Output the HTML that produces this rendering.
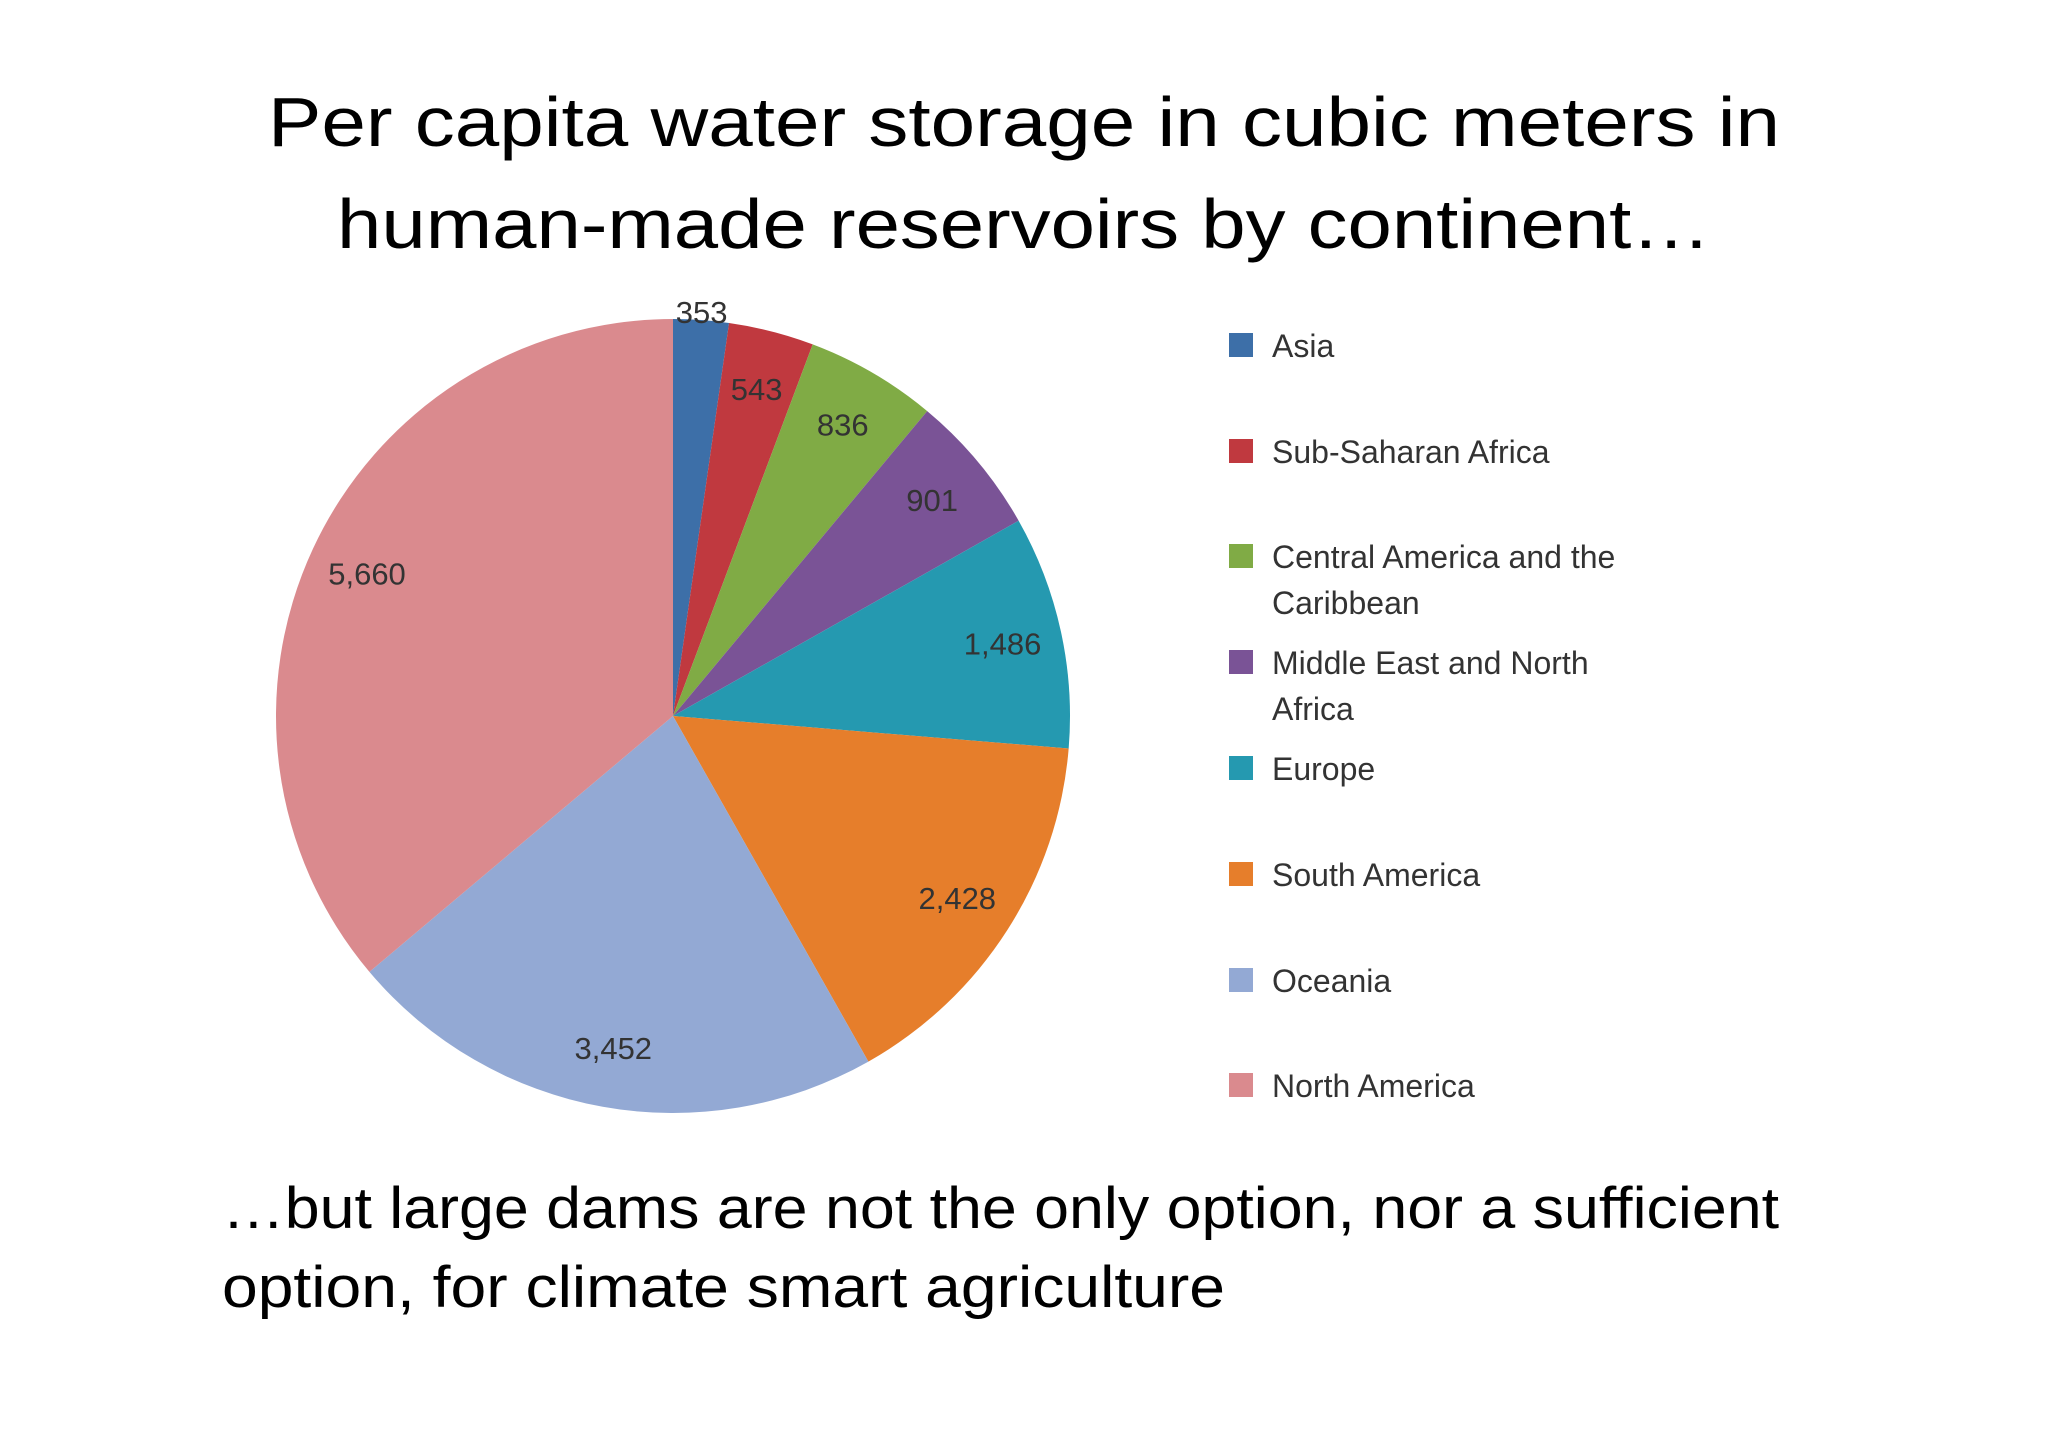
<!DOCTYPE html>
<html><head><meta charset="utf-8"><style>
html,body{margin:0;padding:0;background:#fff;}
svg{display:block;font-family:"Liberation Sans",sans-serif;}
</style></head><body>
<svg id="chart" width="2048" height="1447" viewBox="0 0 2048 1447" xmlns="http://www.w3.org/2000/svg">
<rect width="2048" height="1447" fill="#fff"/>
<text x="268" y="146" font-size="70" fill="#000" textLength="1512" lengthAdjust="spacingAndGlyphs">Per capita water storage in cubic meters in</text>
<text x="337" y="248" font-size="70" fill="#000" textLength="1374" lengthAdjust="spacingAndGlyphs">human-made reservoirs by continent…</text>
<g id="slices"></g>
<g id="labels"></g>
<g id="legend"></g>
<text x="222" y="1228" font-size="58" fill="#000" textLength="1557" lengthAdjust="spacingAndGlyphs">…but large dams are not the only option, nor a sufficient</text>
<text x="222" y="1307" font-size="58" fill="#000" textLength="1003" lengthAdjust="spacingAndGlyphs">option, for climate smart agriculture</text>
</svg>
<script>
const categories = ["Asia","Sub-Saharan Africa","Central America and the Caribbean","Middle East and North Africa","Europe","South America","Oceania","North America"];
const values = [353,543,836,901,1486,2428,3452,5660];
const valueLabels = ["353","543","836","901","1,486","2,428","3,452","5,660"];
const colors = ["#3d6fa8","#c0393f","#80ab45","#7a5396","#2599b0","#e67e2b","#93a9d4","#da8a8e"];
const legendLines = [["Asia"],["Sub-Saharan Africa"],["Central America and the","Caribbean"],["Middle East and North","Africa"],["Europe"],["South America"],["Oceania"],["North America"]];

const NS="http://www.w3.org/2000/svg";
const cx=673, cy=716, r=397;
const total=values.reduce((a,b)=>a+b,0);
const angleScale=v=>v/total*2*Math.PI;
const pt=(a,rad)=>[cx+rad*Math.sin(a), cy-rad*Math.cos(a)];
const gS=document.getElementById('slices'), gL=document.getElementById('labels'), gG=document.getElementById('legend');
let a0=0;
values.forEach((v,i)=>{
  const a1=a0+angleScale(v);
  const [x0,y0]=pt(a0,r),[x1,y1]=pt(a1,r);
  const p=document.createElementNS(NS,'path');
  p.setAttribute('d',`M${cx},${cy}L${x0},${y0}A${r},${r} 0 ${a1-a0>Math.PI?1:0} 1 ${x1},${y1}Z`);
  p.setAttribute('fill',colors[i]);
  
  
  gS.appendChild(p);
  const mid=(a0+a1)/2;
  const f = i===0 ? 1.02 : 0.85;
  const [lx,ly]=pt(mid,r*f);
  const t=document.createElementNS(NS,'text');
  t.setAttribute('x',lx);t.setAttribute('y',ly+11);
  t.setAttribute('text-anchor','middle');t.setAttribute('font-size','31');t.setAttribute('fill','#333');
  t.textContent=valueLabels[i];
  
  
  gL.appendChild(t);
  a0=a1;
});
const legendY=[345,451,556,662,768,874,980,1085];
categories.forEach((c,i)=>{
  const g=document.createElementNS(NS,'g');
  
  
  const s=document.createElementNS(NS,'rect');
  s.setAttribute('x',1229);s.setAttribute('y',legendY[i]-12);s.setAttribute('width',24);s.setAttribute('height',24);s.setAttribute('fill',colors[i]);
  g.appendChild(s);
  legendLines[i].forEach((ln,j)=>{
    const t=document.createElementNS(NS,'text');
    t.setAttribute('x',1272);t.setAttribute('y',legendY[i]+12+j*46);
    t.setAttribute('font-size','32');t.setAttribute('fill','#333');
    t.textContent=ln;
    g.appendChild(t);
  });
  gG.appendChild(g);
});
</script>
</body></html>
